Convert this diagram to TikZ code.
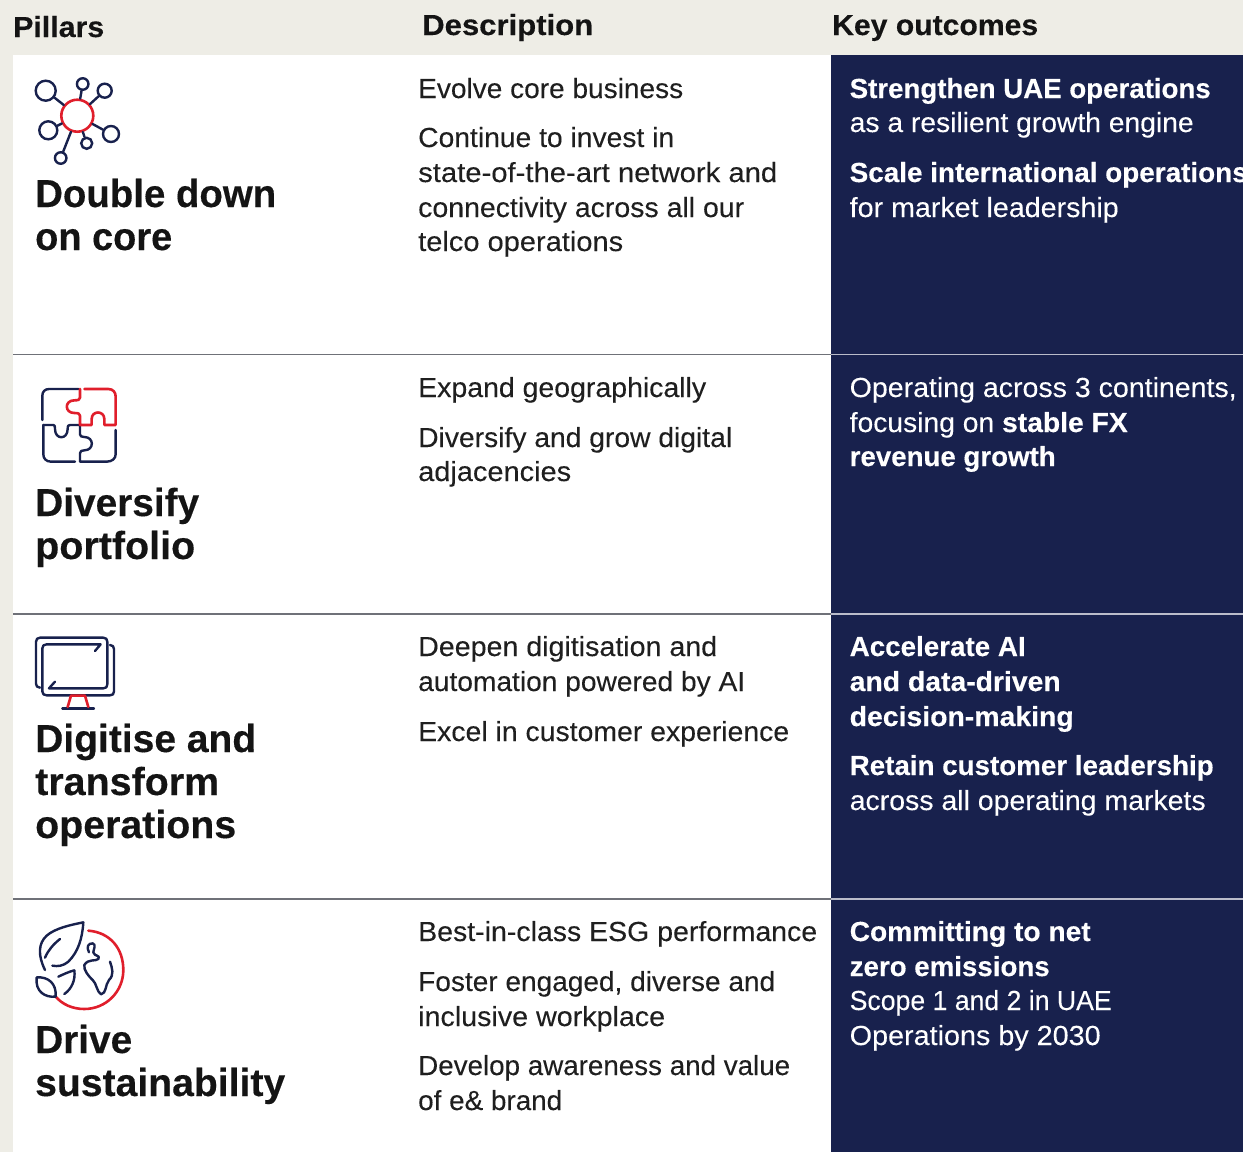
\documentclass[tikz,border=0pt]{standalone}
\usepackage{graphicx}
\usepackage{fontspec}
\setmainfont[UprightFeatures={FakeBold=0.12},BoldFont={Liberation Sans Bold},BoldFeatures={FakeBold=0.3}]{Liberation Sans}
\definecolor{cream}{HTML}{EEEDE6}
\definecolor{navy}{HTML}{18214D}
\definecolor{rede}{HTML}{E01E2B}
\definecolor{rulegrey}{HTML}{6F7178}
\newcommand{\fitw}[2]{\resizebox{#1pt}{\height}{#2}}
\tikzset{
  hdr/.style={anchor=base west,inner sep=0pt,font=\fontsize{29}{29}\selectfont\bfseries,text=black!92},
  body/.style={anchor=base west,inner sep=0pt,font=\fontsize{27.6}{28}\selectfont,text=black!88},
  wbody/.style={anchor=base west,inner sep=0pt,font=\fontsize{27.6}{28}\selectfont,text=white},
  ttl/.style={anchor=base west,inner sep=0pt,font=\fontsize{39}{39}\selectfont\bfseries,text=black!92},
  ico/.style={navy,line width=2.4pt,line cap=round,line join=round},
  icor/.style={rede,line width=2.6pt,line cap=round,line join=round},
  dot/.style={circle,draw=navy,line width=2.4pt,inner sep=0pt,fill=white},
  hub/.style={circle,draw=rede,line width=2.6pt,inner sep=0pt,fill=white,minimum size=32pt}
}
\begin{document}
\begin{tikzpicture}[x=1pt,y=-1pt]
\useasboundingbox (0,0) rectangle (1243,1152);
\fill[cream] (0,0) rectangle (1243,1152);
\fill[white] (13,55) rectangle (831,1152);
\fill[navy] (831,55) rectangle (1243,1152);
\foreach \yy in {354.5,614,899}{
  \draw[rulegrey,line width=1.3pt] (13,\yy) -- (831,\yy);
  \draw[white!70!navy,line width=1.3pt] (831,\yy) -- (1243,\yy);
}
% headers
\node[hdr] (h1) at (13,37) {\fitw{91}{Pillars}};
\node[hdr] (h2) at (422,35) {\fitw{171}{Description}};
\node[hdr] (h3) at (832,35) {\fitw{206}{Key outcomes}};
% titles
\node[ttl] (t1a) at (35,207) {\fitw{241}{Double down}};
\node[ttl] (t1b) at (35,250) {\fitw{137}{on core}};
\node[ttl] (t2a) at (35,516) {\fitw{164}{Diversify}};
\node[ttl] (t2b) at (35,559) {\fitw{160}{portfolio}};
\node[ttl] (t3a) at (35,752) {\fitw{221}{Digitise and}};
\node[ttl] (t3b) at (35,795) {\fitw{184}{transform}};
\node[ttl] (t3c) at (35,838) {\fitw{201}{operations}};
\node[ttl] (t4a) at (35,1053) {\fitw{97}{Drive}};
\node[ttl] (t4b) at (35,1096) {\fitw{250}{sustainability}};
% description
\node[body] (d01) at (418,98) {\fitw{265}{Evolve core business}};
\node[body] (d02) at (418,147) {\fitw{256}{Continue to invest in}};
\node[body] (d03) at (418,182) {\fitw{359}{state-of-the-art network and}};
\node[body] (d04) at (418,217) {\fitw{326}{connectivity across all our}};
\node[body] (d05) at (418,251) {\fitw{205}{telco operations}};
\node[body] (d06) at (418,397) {\fitw{288}{Expand geographically}};
\node[body] (d07) at (418,447) {\fitw{314}{Diversify and grow digital}};
\node[body] (d08) at (418,481) {\fitw{153}{adjacencies}};
\node[body] (d09) at (418,656) {\fitw{299}{Deepen digitisation and}};
\node[body] (d10) at (418,691) {\fitw{327}{automation powered by AI}};
\node[body] (d11) at (418,741) {\fitw{371}{Excel in customer experience}};
\node[body] (d12) at (418,941) {\fitw{399}{Best-in-class ESG performance}};
\node[body] (d13) at (418,991) {\fitw{357}{Foster engaged, diverse and}};
\node[body] (d14) at (418,1026) {\fitw{247}{inclusive workplace}};
\node[body] (d15) at (418,1075) {\fitw{372}{Develop awareness and value}};
\node[body] (d16) at (418,1110) {\fitw{144}{of e\& brand}};
% outcomes
\node[wbody] (k01) at (849.5,98) {\fitw{361}{\textbf{Strengthen UAE operations}}};
\node[wbody] (k02) at (849.5,132) {\fitw{344}{as a resilient growth engine}};
\node[wbody] (k03) at (849.5,182) {\fitw{398}{\textbf{Scale international operations}}};
\node[wbody] (k04) at (849.5,217) {\fitw{269}{for market leadership}};
\node[wbody] (k05) at (849.5,397) {\fitw{387}{Operating across 3 continents,}};
\node[wbody] (k06) at (849.5,432) {\fitw{278}{focusing on \textbf{stable FX}}};
\node[wbody] (k07) at (849.5,466) {\fitw{206}{\textbf{revenue growth}}};
\node[wbody] (k08) at (849.5,656) {\fitw{176}{\textbf{Accelerate AI}}};
\node[wbody] (k09) at (849.5,691) {\fitw{211}{\textbf{and data-driven}}};
\node[wbody] (k10) at (849.5,726) {\fitw{224}{\textbf{decision-making}}};
\node[wbody] (k11) at (849.5,775) {\fitw{364}{\textbf{Retain customer leadership}}};
\node[wbody] (k12) at (849.5,810) {\fitw{356}{across all operating markets}};
\node[wbody] (k13) at (849.5,941) {\fitw{241}{\textbf{Committing to net}}};
\node[wbody] (k14) at (849.5,976) {\fitw{200}{\textbf{zero emissions}}};
\node[wbody] (k15) at (849.5,1010) {\fitw{262}{Scope 1 and 2 in UAE}};
\node[wbody] (k16) at (849.5,1045) {\fitw{251}{Operations by 2030}};
% icon 1: network
\node[hub] (hb) at (77.3,115.7) {};
\node[dot,minimum size=20pt] (n1) at (45.7,90.7) {};
\node[dot,minimum size=11.5pt] (n2) at (82.7,84) {};
\node[dot,minimum size=14pt] (n3) at (104.7,90.7) {};
\node[dot,minimum size=18pt] (n4) at (48.3,130.3) {};
\node[dot,minimum size=16pt] (n5) at (111,134) {};
\node[dot,minimum size=11pt] (n6) at (86.7,143.3) {};
\node[dot,minimum size=11.5pt] (n7) at (60.7,158) {};
\foreach \n in {n1,n2,n3,n4,n5,n6,n7}{\draw[ico] (hb) -- (\n);}
% icon 2: puzzle
\begin{scope}[shift={(25,375)},x=0.3333pt,y=-0.3333pt]
\draw[ico] (52,135) -- (52,62) .. controls (52,50) and (60,42) .. (72,42) -- (160,42);
\draw[ico] (55,150) -- (85,150) .. controls (88,150) and (90,152) .. (90,162) .. controls (90,195) and (128,195) .. (128,162) .. controls (128,152) and (130,150) .. (135,150) -- (165,150) -- (165,178) .. controls (165,184) and (170,186) .. (178,186) .. controls (208,186) and (208,226) .. (178,226) .. controls (170,226) and (165,228) .. (165,235) -- (165,260) -- (245,260) .. controls (262,260) and (272,250) .. (272,238) -- (272,165);
\draw[ico] (55,150) -- (55,238) .. controls (55,250) and (63,260) .. (78,260) -- (150,260);
\draw[icor] (178,42) -- (250,42) .. controls (264,42) and (272,52) .. (272,64) -- (272,150) -- (238,150) -- (238,132) .. controls (238,106) and (200,106) .. (200,132) -- (200,150) -- (165,150) -- (165,122) .. controls (165,116) and (160,114) .. (148,114) .. controls (118,114) and (118,76) .. (148,76) .. controls (160,76) and (165,74) .. (165,68) -- (165,42);
\end{scope}
% icon 3: monitor
\begin{scope}[shift={(25,625)},x=0.3333pt,y=-0.3333pt]
\draw[ico] (45,188) .. controls (37,188) and (33,183) .. (33,176) -- (33,50) .. controls (33,42) and (38,38) .. (45,38) -- (235,38) .. controls (243,38) and (247,43) .. (247,50) -- (247,178) .. controls (247,186) and (243,190) .. (235,190) -- (72,190) -- (90,170);
\draw[ico] (255,60) .. controls (263,60) and (267,65) .. (267,72) -- (267,199) .. controls (267,207) and (263,211) .. (255,211) -- (65,211) .. controls (57,211) and (52,207) .. (52,199) -- (52,70) .. controls (52,62) and (57,58) .. (65,58) -- (227,58) -- (210,78);
\draw[ico] (112,251) -- (207,251);
\draw[icor] (128,246) -- (138,212) -- (180,212) -- (190,246);
\end{scope}
% icon 4: globe
\begin{scope}[shift={(25,915)},x=0.3333pt,y=-0.3333pt]
\draw[icor] (190,47) .. controls (255,52) and (295,100) .. (295,165) .. controls (295,230) and (243,282) .. (178,282) .. controls (142,282) and (112,268) .. (92,245);
\draw[ico] (60,165) .. controls (38,120) and (40,85) .. (65,62) .. controls (90,40) and (135,30) .. (175,22) .. controls (172,70) and (160,110) .. (130,140) .. controls (115,153) and (98,155) .. (82,152);
\draw[ico] (105,72) .. controls (85,88) and (70,105) .. (60,128);
\draw[ico] (35,187) .. controls (70,185) and (95,205) .. (92,245) .. controls (60,248) and (30,230) .. (35,187);
\draw[ico] (100,185) .. controls (115,178) and (132,170) .. (148,166) .. controls (152,195) and (140,222) .. (118,237);
\draw[ico] (192,112) .. controls (183,95) and (190,85) .. (203,85) .. controls (215,88) and (205,105) .. (205,112) .. controls (208,125) and (228,120) .. (220,132) .. controls (212,140) and (190,130) .. (178,150) .. controls (175,165) and (192,185) .. (203,195) .. controls (215,205) and (215,230) .. (228,238) .. controls (245,235) and (240,210) .. (252,195) .. controls (268,180) and (262,160) .. (255,140);
\end{scope}
\end{tikzpicture}
\end{document}
